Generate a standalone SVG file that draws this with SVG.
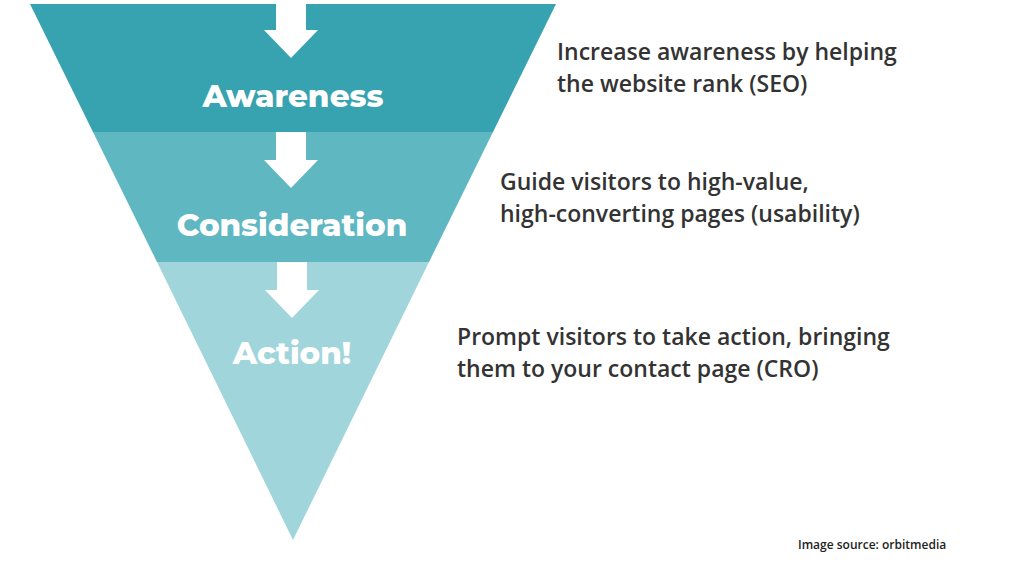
<svg xmlns="http://www.w3.org/2000/svg" width="1024" height="576" viewBox="0 0 1024 576">
<style>
.lbl{font-family:"Montserrat","Open Sans","Liberation Sans",sans-serif;font-weight:800;fill:#fff;font-size:31px;text-anchor:middle}
.txt{font-family:"Open Sans","Liberation Sans",sans-serif;font-weight:600;fill:#333;font-size:23px}
.arr{fill:#fff}
</style>
<rect width="1024" height="576" fill="#fff"/>
<g id="awareness"><polygon points="30,4 556,4 493,132 93,132" fill="#37a2b0"/><text class="lbl" x="293" y="107">Awareness</text></g>
<g id="consideration"><polygon points="93,132 493,132 429,262 157,262" fill="#5fb7c2"/><text class="lbl" x="292" y="236">Consideration</text></g>
<g id="action"><polygon points="157,262 429,262 293,540" fill="#a1d5dc"/><text class="lbl" x="292" y="364">Action!</text></g>
<g id="connectors">
<polygon class="arr" points="276,0 306,0 306,30 318,30 291,58 264,30 276,30"/>
<polygon class="arr" points="276,132 306,132 306,160 318,160 291,188 264,160 276,160"/>
<polygon class="arr" points="277,262 307,262 307,290 319,290 292,318 265,290 277,290"/>
</g>
<text class="txt" x="557" y="60">Increase awareness by helping</text>
<text class="txt" x="557" y="92">the website rank (SEO)</text>
<text class="txt" x="500" y="190">Guide visitors to high-value,</text>
<text class="txt" x="500" y="222">high-converting pages (usability)</text>
<text class="txt" x="457" y="345">Prompt visitors to take action, bringing</text>
<text class="txt" x="457" y="377">them to your contact page (CRO)</text>
<text x="798" y="549" style="font-family:'Open Sans','Liberation Sans',sans-serif;font-size:12px;font-weight:600;fill:#222">Image source: orbitmedia</text>
</svg>
